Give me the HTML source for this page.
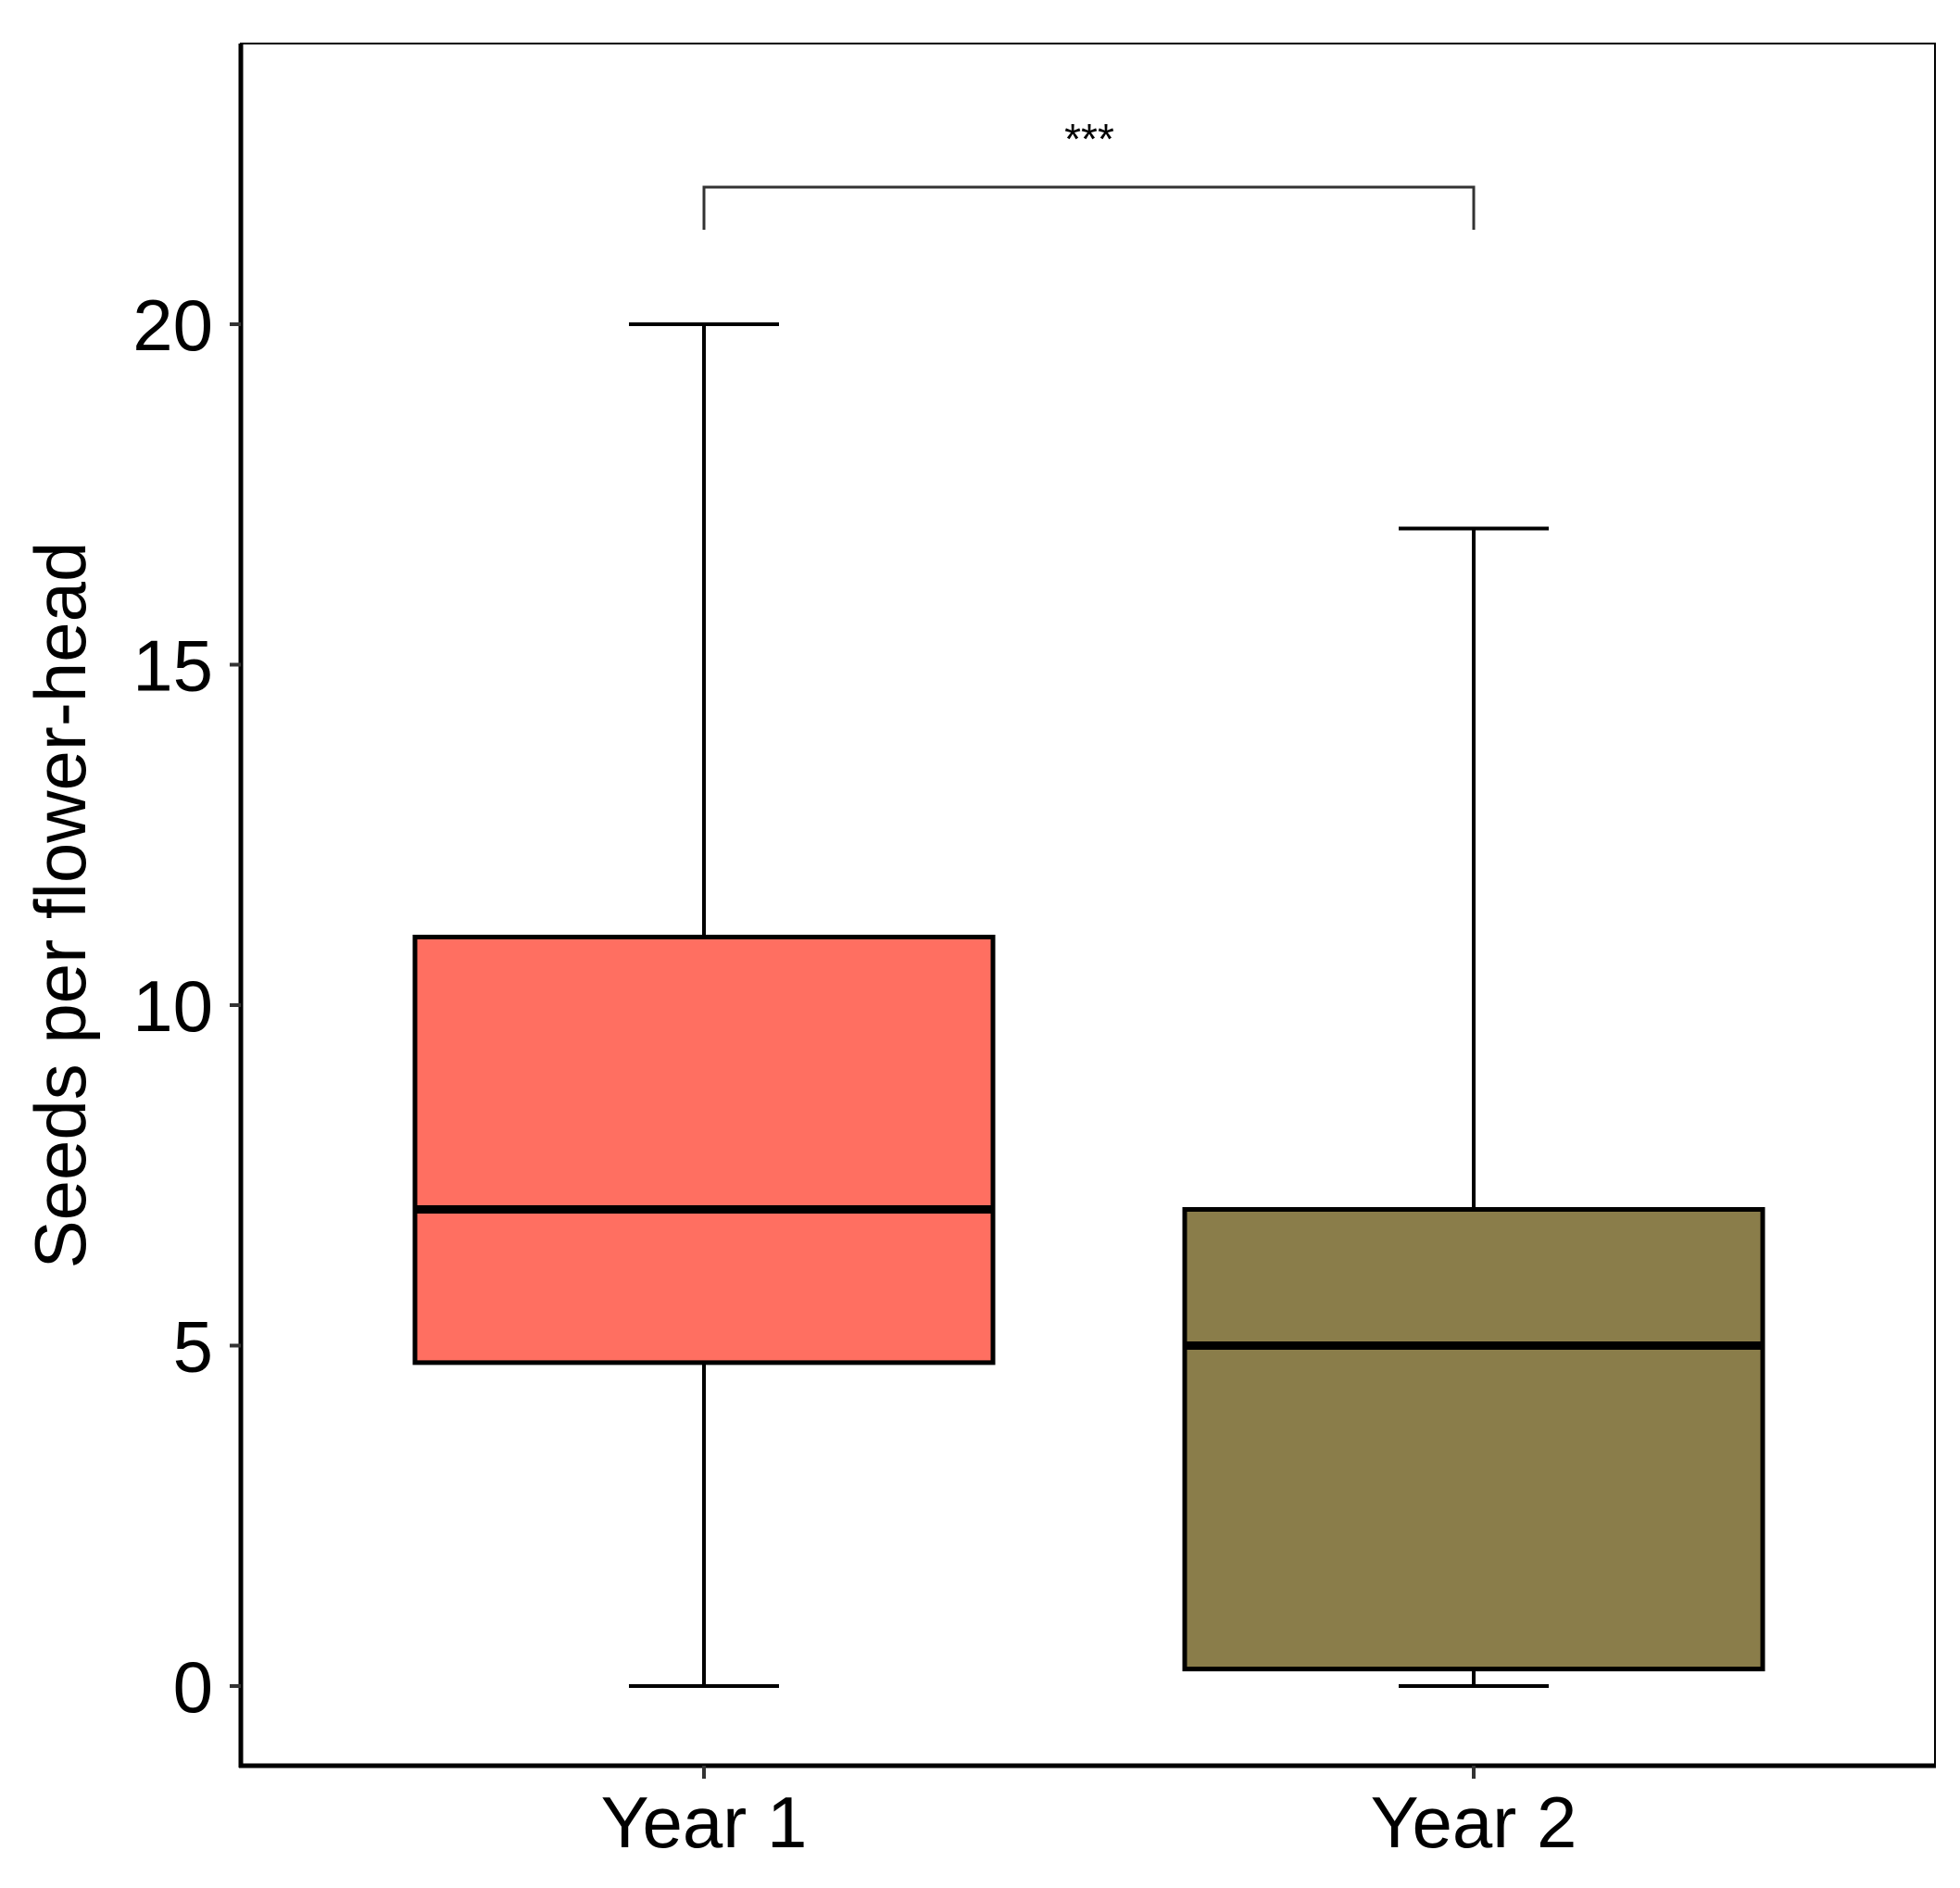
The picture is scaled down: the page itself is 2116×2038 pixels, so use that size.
<!DOCTYPE html>
<html><head><meta charset="utf-8"><style>
body{margin:0;background:#fff}
svg text{font-family:"Liberation Sans",Arial,sans-serif}
</style></head><body>
<svg id="chart" width="2116" height="2033" viewBox="0 0 2116 2033" xmlns="http://www.w3.org/2000/svg">
<rect x="0" y="0" width="2116" height="2033" fill="#fff"/>
<g id="plot"></g>
<g id="axes"></g>
</svg>
<script>
const categories = ["Year 1", "Year 2"];
const whiskerLow = [0, 0];
const q1 = [4.75, 0.25];
const median = [7, 5];
const q3 = [11, 7];
const whiskerHigh = [20, 17];
const fills = ["#FF6F61", "#8A7D4A"];
const yTicks = [0, 5, 10, 15, 20];

const NS = "http://www.w3.org/2000/svg";
const L = 260, R = 2089, T = 47, B = 1906;
function y(v){ return 1820 - v * (1820 - 350) / 20; }
function x(i){ return 760 + i * (1591 - 760); }
const boxHalf = 312, capHalf = 81;
function mk(parent, tag, attrs){
  const el = document.createElementNS(NS, tag);
  for (const k in attrs) el.setAttribute(k, attrs[k]);
  parent.appendChild(el);
  return el;
}
const plot = document.getElementById('plot');
const axes = document.getElementById('axes');

categories.forEach((c, i) => {
  const g = mk(plot, 'g', {});
  
  
  const cx = x(i);
  const w1 = mk(g, 'line', {x1: cx, x2: cx, y1: y(whiskerLow[i]), y2: y(q1[i]), stroke: '#000', 'stroke-width': 4});
  
  
  const w2 = mk(g, 'line', {x1: cx, x2: cx, y1: y(whiskerHigh[i]), y2: y(q3[i]), stroke: '#000', 'stroke-width': 4});
  
  
  const c1 = mk(g, 'line', {x1: cx - capHalf, x2: cx + capHalf, y1: y(whiskerLow[i]), y2: y(whiskerLow[i]), stroke: '#000', 'stroke-width': 4});
  
  
  const c2 = mk(g, 'line', {x1: cx - capHalf, x2: cx + capHalf, y1: y(whiskerHigh[i]), y2: y(whiskerHigh[i]), stroke: '#000', 'stroke-width': 4});
  
  
  const rect = mk(g, 'rect', {x: cx - boxHalf, y: y(q3[i]), width: boxHalf * 2, height: y(q1[i]) - y(q3[i]), fill: fills[i], stroke: '#000', 'stroke-width': 5});
  
  
  const md = mk(g, 'line', {x1: cx - boxHalf, x2: cx + boxHalf, y1: y(median[i]), y2: y(median[i]), stroke: '#000', 'stroke-width': 9});
  
  
});

const frame = mk(axes, 'rect', {x: L, y: T, width: R - L, height: B - T, fill: 'none', stroke: '#000', 'stroke-width': 2});


const ya = mk(axes, 'line', {x1: L, x2: L, y1: T, y2: B + 2, stroke: '#000', 'stroke-width': 5});


const xa = mk(axes, 'line', {x1: L - 2, x2: R + 1, y1: B, y2: B, stroke: '#000', 'stroke-width': 5});



yTicks.forEach(t => {
  const tk = mk(axes, 'line', {x1: L - 12, x2: L, y1: y(t), y2: y(t), stroke: '#333', 'stroke-width': 4});
  
  
  const tl = mk(axes, 'text', {x: L - 30, y: y(t) + 28, 'text-anchor': 'end', 'font-size': 78, fill: '#000'});
  tl.textContent = t;
  
  
});
categories.forEach((c, i) => {
  const tk = mk(axes, 'line', {x1: x(i), x2: x(i), y1: B, y2: B + 14, stroke: '#333', 'stroke-width': 4});
  
  
  const tl = mk(axes, 'text', {x: x(i), y: 1994, 'text-anchor': 'middle', 'font-size': 78, fill: '#000'});
  tl.textContent = c;
  
  
});
const yl = mk(axes, 'text', {x: 0, y: 0, 'text-anchor': 'middle', 'font-size': 78, fill: '#000', transform: 'translate(92,977) rotate(-90)'});
yl.textContent = 'Seeds per flower-head';



const br = mk(axes, 'path', {d: `M${x(0)} 248 V202 H${x(1)} V248`, fill: 'none', stroke: '#333', 'stroke-width': 3});


const st = mk(axes, 'text', {x: 1176, y: 166, 'text-anchor': 'middle', 'font-size': 46, fill: '#000'});
st.textContent = '***';


</script>
</body></html>
